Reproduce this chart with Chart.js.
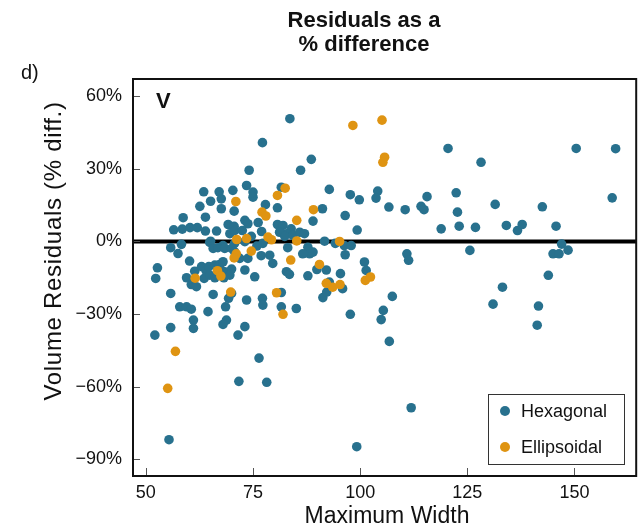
<!DOCTYPE html>
<html>
<head>
<meta charset="utf-8">
<script src="https://cdn.jsdelivr.net/npm/chart.js@4.4.1/dist/chart.umd.min.js"></script>
<style>
  html, body { margin: 0; padding: 0; background: #fff; }
  #wrap { width: 641px; height: 531px; position: relative; }
</style>
</head>
<body>
<div id="wrap"><canvas id="residualsChart"></canvas></div>
<script>
// Maximum width vs. volume residual (% difference), one pair of arrays per shape model
const hexWidth = [
  63.5, 67.1, 67.6, 65.1, 62.6, 67.6, 70.6, 58.7, 63.9, 69.2,
  70.6, 56.5, 58.5, 60.3, 62.0, 63.9, 66.5, 65.1, 68.0, 70.3,
  69.6, 58.3, 55.8, 57.5, 64.9, 65.7, 66.8, 68.4, 70.0, 60.2,
  52.7, 52.3, 59.5, 61.4, 63.0, 64.1, 64.7, 66.1, 67.2, 68.0,
  67.5, 68.4, 70.0, 60.6, 61.8, 63.6, 64.9, 66.1, 68.2, 69.6,
  55.8, 65.7, 69.3, 70.0, 57.9, 59.5, 60.6, 64.5, 68.6, 61.1,
  61.1, 55.8, 68.8, 68.0, 52.1, 76.4, 71.7, 78.2, 55.4, 83.6,
  77.2, 88.6, 86.1, 74.1, 73.5, 75.0, 75.0, 81.6, 92.8, 77.9,
  80.7, 89.0, 73.1, 73.8, 76.2, 70.7, 72.5, 74.6, 77.0, 80.7,
  82.0, 83.9, 82.8, 81.2, 82.4, 84.3, 85.9, 87.0, 91.7, 94.2,
  96.3, 97.9, 96.5, 87.8, 88.2, 86.6, 89.0, 70.7, 73.1, 77.3,
  75.9, 83.1, 70.7, 71.9, 73.8, 76.9, 78.9, 79.6, 73.1, 75.4,
  82.8, 83.5, 87.8, 92.1, 91.3, 73.5, 77.2, 77.3, 81.6, 81.6,
  85.1, 73.1, 71.5, 89.9, 95.4, 101.0, 101.4, 110.9, 111.3, 92.8,
  95.9, 92.2, 97.7, 107.5, 105.4, 104.9, 106.8, 111.9, 99.2, 120.5,
  97.7, 99.8, 104.1, 103.7, 106.7, 110.5, 114.2, 114.9, 115.6, 122.4,
  122.7, 96.5, 91.2, 99.3, 118.9, 123.1, 150.4, 159.6, 128.2, 131.5,
  142.5, 158.8, 126.9, 134.1, 136.7, 137.8, 145.7, 147.0, 145.0, 146.4,
  148.5, 125.6, 143.9, 133.2, 131.0, 141.6, 141.3
];
const hexResid = [
  20.5, 20.5, 17.6, 16.6, 14.5, 13.5, 12.5, 9.8, 10.0, 7.0,
  6.2, 4.8, 5.1, 5.7, 5.7, 4.3, 4.3, 0.1, -1.7, 21.1,
  3.2, -1.2, -2.6, -5.0, -0.4, -2.9, -2.6, -2.9, -2.9, -8.1,
  -10.9, -15.3, -15.0, -12.3, -10.4, -12.3, -10.4, -9.8, -9.5, -8.4,
  -11.8, -12.5, -11.4, -17.8, -18.7, -15.3, -13.9, -15.0, -15.0, -13.9,
  -21.5, -21.9, -23.5, -21.5, -27.0, -27.0, -28.0, -29.0, -27.0, -32.5,
  -35.9, -35.6, -32.5, -34.3, -38.7, -48.2, -57.8, -58.2, -81.9, 50.7,
  40.8, 33.9, 29.4, 29.4, 23.1, 20.4, 18.3, 22.4, 21.5, 15.2,
  13.9, 8.4, 8.7, 7.3, 7.8, 4.5, 4.5, 2.1, 4.1, 7.0,
  6.6, 5.2, 3.2, 3.8, 2.1, 2.5, 3.8, 3.2, 0.1, -0.8,
  -1.7, -1.7, -5.5, -2.4, -5.1, -5.1, -4.4, -0.8, -0.1, -0.8,
  -1.9, -2.6, -4.3, -7.0, -7.0, -5.9, -5.7, -9.1, -11.8, -14.6,
  -12.5, -13.6, -14.2, -11.8, -23.2, -24.2, -23.5, -26.3, -21.1, -27.0,
  -27.7, -35.2, -38.7, -11.6, -13.3, -8.5, -12.0, -5.1, -7.8, -16.8,
  -19.5, -20.9, -30.1, -22.7, -28.5, -32.3, -41.3, -68.7, -84.8, 38.4,
  19.3, 17.2, 20.8, 17.9, 14.2, 13.1, 14.5, 13.1, 18.5, 20.1,
  12.1, 10.7, 13.5, 4.7, 5.2, 6.3, 38.4, 38.3, 32.7, 15.3,
  14.3, 18.0, 5.8, 6.6, 4.5, 7.0, 6.3, -1.1, -5.1, -5.1,
  -3.6, -3.7, -14.0, -18.9, -25.9, -26.7, -34.6
];
const ellWidth = [
  82.5, 80.7, 71.0, 77.1, 78.0, 85.2, 89.1, 71.2, 73.5, 78.5,
  79.3, 85.2, 95.2, 74.6, 71.1, 70.6, 83.8, 90.5, 66.7, 67.5,
  61.5, 69.8, 80.5, 82.0, 92.1, 93.6, 95.3, 101.2, 102.4, 56.9,
  55.1, 98.3, 105.1, 105.7, 105.3
];
const ellResid = [
  22.0, 19.0, 16.5, 12.1, 10.5, 8.7, 13.1, 0.8, 1.2, 1.8,
  0.7, 0.2, 0.0, -4.0, -5.1, -6.8, -7.7, -9.5, -12.1, -14.3,
  -15.2, -20.9, -21.2, -30.1, -17.3, -18.9, -17.8, -16.1, -14.7, -45.4,
  -60.7, 47.9, 50.1, 34.8, 32.7
];

const seriesNames = ["Hexagonal", "Ellipsoidal"];
const xTicks = [50, 75, 100, 125, 150];
const yTicks = [-90, -60, -30, 0, 30, 60];

const COLORS = {
  hex: "#28718e",
  ell: "#df9412",
  ink: "#111111",
  tick: "#555555"
};
const FONT = "'Liberation Sans', Arial, Helvetica, sans-serif";

function toPoints(xs, ys) {
  return xs.map((x, i) => ({ x: x, y: ys[i] }));
}

// Frame, inward tick marks, zero line, legend box and the loose labels
const decorations = {
  id: "decorations",
  beforeDatasetsDraw(chart) {
    const { ctx, chartArea: a, scales } = chart;
    const y0 = scales.y.getPixelForValue(0);
    ctx.save();
    ctx.strokeStyle = "#000";
    ctx.lineWidth = 4;
    ctx.beginPath();
    ctx.moveTo(a.left, y0);
    ctx.lineTo(a.right, y0);
    ctx.stroke();
    ctx.restore();
  },
  afterDatasetsDraw(chart) {
    const { ctx, chartArea: a, scales } = chart;
    ctx.save();

    // tick marks pointing into the panel
    ctx.strokeStyle = COLORS.tick;
    ctx.lineWidth = 1;
    ctx.beginPath();
    xTicks.forEach(v => {
      const px = Math.round(scales.x.getPixelForValue(v)) + 0.5;
      ctx.moveTo(px, a.bottom);
      ctx.lineTo(px, a.bottom - 8);
    });
    yTicks.forEach(v => {
      const py = Math.round(scales.y.getPixelForValue(v)) + 0.5;
      ctx.moveTo(a.left, py);
      ctx.lineTo(a.left + 7, py);
    });
    ctx.stroke();

    // panel border
    ctx.strokeStyle = COLORS.ink;
    ctx.lineWidth = 2;
    ctx.strokeRect(a.left, a.top, a.right - a.left, a.bottom - a.top);

    // legend
    const lx = 488, ly = 394, lw = 136, lh = 70;
    ctx.fillStyle = "#fff";
    ctx.fillRect(lx, ly, lw, lh);
    ctx.strokeStyle = "#333";
    ctx.lineWidth = 1;
    ctx.strokeRect(lx + 0.5, ly + 0.5, lw, lh);
    const rows = [
      { name: seriesNames[0], color: COLORS.hex, y: ly + 17 },
      { name: seriesNames[1], color: COLORS.ell, y: ly + 53 }
    ];
    ctx.font = "18px " + FONT;
    ctx.textAlign = "left";
    ctx.textBaseline = "middle";
    rows.forEach(r => {
      ctx.fillStyle = r.color;
      ctx.beginPath();
      ctx.arc(lx + 17, r.y, 5, 0, Math.PI * 2);
      ctx.fill();
      ctx.fillStyle = COLORS.ink;
      ctx.fillText(r.name, lx + 33, r.y + 1);
    });

    ctx.restore();
  },
  afterDraw(chart) {
    const { ctx } = chart;
    ctx.save();
    ctx.fillStyle = COLORS.ink;
    ctx.textBaseline = "middle";

    ctx.textAlign = "center";
    ctx.font = "bold 22px " + FONT;
    ctx.fillText("Residuals as a", 364, 21);
    ctx.fillText("% difference", 364, 45);

    ctx.textAlign = "left";
    ctx.font = "20px " + FONT;
    ctx.fillText("d)", 21, 73);

    ctx.font = "bold 22px " + FONT;
    ctx.fillText("V", 156, 102);

    ctx.textAlign = "center";
    ctx.font = "23px " + FONT;
    ctx.fillText("Maximum Width", 387, 517);

    ctx.translate(54, 251);
    ctx.rotate(-Math.PI / 2);
    ctx.font = "24px " + FONT;
    ctx.letterSpacing = "0.7px";
    ctx.fillText("Volume Residuals (% diff.)", 0, 0);
    ctx.restore();
  }
};

const tickFont = { family: FONT, size: 18 };

new Chart(document.getElementById("residualsChart"), {
  type: "scatter",
  data: {
    datasets: [
      {
        label: seriesNames[0],
        data: toPoints(hexWidth, hexResid),
        backgroundColor: COLORS.hex,
        borderWidth: 0,
        pointRadius: 4.8,
        pointHoverRadius: 4.8,
        order: 2
      },
      {
        label: seriesNames[1],
        data: toPoints(ellWidth, ellResid),
        backgroundColor: COLORS.ell,
        borderWidth: 0,
        pointRadius: 4.8,
        pointHoverRadius: 4.8,
        order: 1
      }
    ]
  },
  options: {
    responsive: true,
    maintainAspectRatio: false,
    animation: false,
    layout: { padding: { top: 79, right: 4, left: 0, bottom: 0 } },
    plugins: {
      legend: { display: false },
      tooltip: { enabled: false }
    },
    scales: {
      x: {
        type: "linear",
        min: 47,
        max: 164.4,
        afterBuildTicks: s => { s.ticks = xTicks.map(v => ({ value: v })); },
        afterFit: s => { s.height = 55; },
        grid: { display: false, drawTicks: false },
        border: { display: false },
        ticks: { padding: 6, color: COLORS.ink, font: tickFont, maxRotation: 0 }
      },
      y: {
        type: "linear",
        min: -96.9,
        max: 67.1,
        afterBuildTicks: s => { s.ticks = yTicks.map(v => ({ value: v })); },
        afterFit: s => { s.width = 133; },
        grid: { display: false, drawTicks: false },
        border: { display: false },
        ticks: {
          padding: 11,
          color: COLORS.ink,
          font: tickFont,
          callback: v => (v < 0 ? "\u2212" : "") + Math.abs(v) + "%"
        }
      }
    }
  },
  plugins: [decorations]
});
</script>
</body>
</html>
